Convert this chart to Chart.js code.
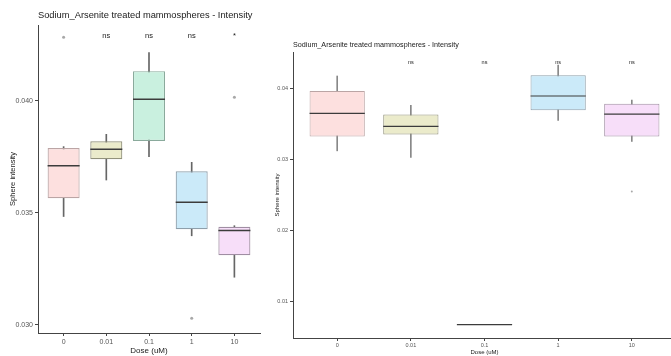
<!DOCTYPE html>
<html>
<head>
<meta charset="utf-8">
<script src="https://cdn.jsdelivr.net/npm/chart.js@4/dist/chart.umd.min.js"></script>
<style>
  html, body { margin: 0; padding: 0; background: #fff; overflow: hidden; width: 671px; height: 356px; }
  canvas { position: absolute; top: 0; }
  #left { left: 0; }
  #right { left: 270px; }
</style>
</head>
<body>
<canvas id="left" width="270" height="356"></canvas>
<canvas id="right" width="410" height="356"></canvas>
<script>
const doses = ['0', '0.01', '0.1', '1', '10'];
const boxFill = ['#fde0df', '#ebebcb', '#c9f0df', '#cbeaf9', '#f7def9'];
const boxLine = ['#bba5a5', '#92927b', '#8aaa9c', '#8e9fab', '#a08ea3'];

// left panel
const p1Low    = [0.03484, 0.03647, 0.03751, 0.03398, 0.03213];
const p1Q1     = [0.03566, 0.03740, 0.03821, 0.03427, 0.03311];
const p1Median = [0.03711, 0.03784, 0.04008, 0.03548, 0.03422];
const p1Q3     = [0.03790, 0.03820, 0.04133, 0.03686, 0.03438];
const p1High   = [0.03796, 0.03851, 0.04216, 0.03726, 0.03443];
const p1OutDose  = [0, 3, 4];
const p1OutValue = [0.04284, 0.03030, 0.04016];
const p1Signif = ['', 'ns', 'ns', 'ns', '*'];
const p1Ticks  = [0.030, 0.035, 0.040];

// right panel (0.1 only has a flat line)
const p2Low    = [0.03122, 0.03030, null, 0.03550, 0.03254];
const p2Q1     = [0.03325, 0.03353, null, 0.03691, 0.03325];
const p2Median = [0.03648, 0.03466, 0.00682, 0.03892, 0.03639];
const p2Q3     = [0.03962, 0.03634, null, 0.04183, 0.03783];
const p2High   = [0.04173, 0.03761, null, 0.04328, 0.03835];
const p2OutDose  = [4];
const p2OutValue = [0.02551];
const p2Signif = ['', 'ns', 'ns', 'ns', 'ns'];
const p2Ticks  = [0.01, 0.02, 0.03, 0.04];

const titleText = 'Sodium_Arsenite treated mammospheres - Intensity';
const FONT = '"Liberation Sans", Arial, sans-serif';

// title + significance labels
const panelText = {
  id: 'panelText',
  afterDraw(chart, args, o) {
    const { ctx, chartArea, scales } = chart;
    ctx.save();
    ctx.fillStyle = '#1a1a1a';
    ctx.textBaseline = 'middle';
    ctx.font = o.titleSize + 'px ' + FONT;
    ctx.fillText(titleText, chartArea.left + o.titleDx, o.titleY);
    ctx.font = o.signifSize + 'px ' + FONT;
    ctx.textAlign = 'center';
    o.signif.forEach((s, i) => {
      if (s) ctx.fillText(s, scales.x.getPixelForValue(i), scales.y.getPixelForValue(o.signifY));
    });
    ctx.restore();
  }
};

function halfBox(chart) {
  const x = chart.scales.x;
  return x.getPixelForValue(0.375) - x.getPixelForValue(0);
}

function makePanel(id, p) {
  const idx = doses.map((d, i) => i).filter(i => p.q1[i] !== null);
  new Chart(document.getElementById(id), {
    type: 'bar',
    data: {
      datasets: [
        {
          type: 'scatter',
          order: 0,
          data: p.outDose.map((d, i) => ({ x: d, y: p.outValue[i] })),
          pointRadius: p.outRadius,
          pointBackgroundColor: '#a8a8a8',
          pointBorderWidth: 0
        },
        {
          type: 'scatter',
          order: 1,
          data: p.median.map((m, i) => ({ x: i, y: m })),
          pointStyle: 'line',
          pointRadius: ctx => halfBox(ctx.chart),
          pointBorderColor: '#3c3c3c',
          pointBorderWidth: p.medianWidth
        },
        {
          order: 2,
          grouped: false,
          data: idx.map(i => ({ x: i, y: [p.q1[i], p.q3[i]] })),
          backgroundColor: idx.map(i => boxFill[i]),
          borderColor: idx.map(i => boxLine[i]),
          borderWidth: p.boxBorder,
          borderSkipped: false,
          barPercentage: 0.75,
          categoryPercentage: 1
        },
        {
          order: 3,
          grouped: false,
          data: idx.map(i => ({ x: i, y: [p.low[i], p.high[i]] })),
          backgroundColor: p.whiskerColor,
          barThickness: 1
        }
      ]
    },
    options: {
      responsive: false,
      animation: false,
      events: [],
      layout: { padding: p.padding },
      plugins: {
        legend: { display: false },
        tooltip: { enabled: false },
        panelText: {
          titleSize: p.titleSize, titleDx: p.titleDx, titleY: p.titleY,
          signif: p.signif, signifY: p.signifY, signifSize: p.signifSize
        }
      },
      scales: {
        x: {
          type: 'linear',
          offset: false,
          min: -0.6,
          max: 4.6,
          afterBuildTicks: a => { a.ticks = doses.map((d, i) => ({ value: i })); },
          afterFit: s => { s.height = p.xHeight; },
          ticks: {
            callback: v => doses[v],
            color: '#555',
            font: { family: FONT, size: p.tickSize },
            padding: p.xTickPad,
            maxRotation: 0
          },
          grid: { offset: false, drawOnChartArea: false, tickLength: 3, color: '#444' },
          border: { color: '#444', width: 1 },
          title: {
            display: true, text: 'Dose (uM)', color: '#1a1a1a',
            font: { family: FONT, size: p.xTitleSize }, padding: { top: p.xTitlePad, bottom: 0 }
          }
        },
        y: {
          type: 'linear',
          min: p.yMin,
          max: p.yMax,
          afterBuildTicks: a => { a.ticks = p.ticks.map(v => ({ value: v })); },
          afterFit: s => { s.width = p.yWidth; },
          ticks: {
            callback: v => v.toFixed(p.decimals),
            color: '#555',
            font: { family: FONT, size: p.tickSize },
            padding: 2
          },
          grid: { drawOnChartArea: false, tickLength: 3, color: '#444' },
          border: { color: '#444', width: 1 },
          title: {
            display: true, text: 'Sphere intensity', color: '#1a1a1a',
            font: { family: FONT, size: p.yTitleSize }, padding: { top: p.yTitlePad, bottom: 0 }
          }
        }
      }
    },
    plugins: [panelText]
  });
}

makePanel('left', {
  low: p1Low, q1: p1Q1, median: p1Median, q3: p1Q3, high: p1High,
  outDose: p1OutDose, outValue: p1OutValue, signif: p1Signif, ticks: p1Ticks,
  yMin: 0.02964, yMax: 0.04339, decimals: 3,
  padding: { left: 0, right: 10, top: 25, bottom: 0 },
  xHeight: 23, yWidth: 38, tickSize: 7, xTickPad: 2, xTitleSize: 8, xTitlePad: 1, yTitleSize: 7.5, yTitlePad: 8,
  titleSize: 9.3, titleDx: 0, titleY: 15, signifY: 0.0429, signifSize: 7.5,
  outRadius: 1.5, medianWidth: 1.5, boxBorder: 1.2, whiskerColor: '#666'
});

makePanel('right', {
  low: p2Low, q1: p2Q1, median: p2Median, q3: p2Q3, high: p2High,
  outDose: p2OutDose, outValue: p2OutValue, signif: p2Signif, ticks: p2Ticks,
  yMin: 0.00494, yMax: 0.0451, decimals: 2,
  padding: { left: 0, right: 2, top: 52, bottom: 0 },
  xHeight: 18, yWidth: 23, tickSize: 5.5, xTickPad: 1, xTitleSize: 6, xTitlePad: 0, yTitleSize: 6, yTitlePad: 4,
  titleSize: 7.2, titleDx: 0, titleY: 45, signifY: 0.0436, signifSize: 5.5,
  outRadius: 1, medianWidth: 1.2, boxBorder: 1, whiskerColor: '#888'
});
</script>
</body>
</html>
